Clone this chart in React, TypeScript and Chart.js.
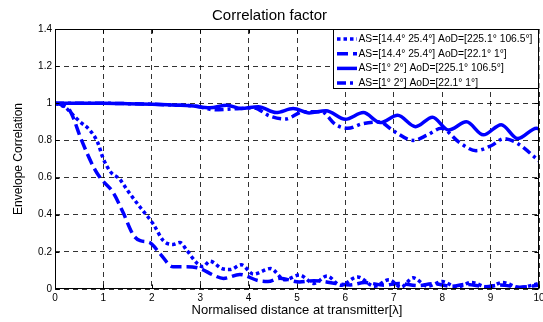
import React, { useEffect, useRef } from 'react';
import { Chart, registerables } from 'chart.js';

Chart.register(...registerables);

const chartTitle = 'Correlation factor';
const xAxisTitle = 'Normalised distance at transmitter[λ]';
const yAxisTitle = 'Envelope Correlation';

const xTickValues = [0, 1, 2, 3, 4, 5, 6, 7, 8, 9, 10];
const yTickValues = [0, 0.2, 0.4, 0.6, 0.8, 1, 1.2, 1.4];

const seriesLabels = [
  'AS=[14.4° 25.4°] AoD=[225.1° 106.5°]',
  'AS=[14.4° 25.4°] AoD=[22.1° 1°]',
  'AS=[1° 2°] AoD=[225.1° 106.5°]',
  'AS=[1° 2°] AoD=[22.1° 1°]',
];

// Series 1: dotted
const s1X = [0, 0.2, 0.4, 0.52, 0.72, 0.88, 1.0, 1.15, 1.34, 1.5, 1.76, 2.03, 2.24, 2.44, 2.58, 2.72, 2.93, 3.06, 3.2, 3.45, 3.62, 3.85, 4.1, 4.45, 4.75, 5.05, 5.35, 5.62, 5.9, 6.25, 6.6, 6.9, 7.15, 7.4, 7.7, 8.0, 8.3, 8.6, 8.95, 9.25, 9.6, 10];
const s1Y = [1, 0.98, 0.93, 0.9, 0.855, 0.79, 0.7, 0.63, 0.59, 0.53, 0.44, 0.35, 0.26, 0.24, 0.25, 0.21, 0.14, 0.12, 0.15, 0.11, 0.105, 0.13, 0.08, 0.11, 0.05, 0.075, 0.03, 0.07, 0.02, 0.065, 0.015, 0.05, 0.01, 0.06, 0.015, 0.04, 0.01, 0.035, 0.01, 0.035, 0.008, 0.03];

// Series 2: dashed
const s2X = [0, 0.15, 0.31, 0.55, 0.79, 0.93, 1.2, 1.41, 1.62, 1.76, 1.96, 2.17, 2.44, 2.72, 3.0, 3.27, 3.48, 3.82, 4.2, 4.4, 4.65, 5.05, 5.35, 5.8, 6.1, 6.4, 6.8, 7.1, 7.5, 7.8, 8.2, 8.5, 8.9, 9.2, 9.6, 10];
const s2Y = [1, 0.99, 0.96, 0.8, 0.66, 0.6, 0.52, 0.41, 0.29, 0.26, 0.25, 0.19, 0.12, 0.12, 0.11, 0.075, 0.057, 0.078, 0.045, 0.04, 0.058, 0.038, 0.045, 0.03, 0.022, 0.035, 0.02, 0.03, 0.018, 0.028, 0.015, 0.025, 0.012, 0.022, 0.01, 0.02];

// Series 3: solid
const s3X = [0, 0.5, 1, 1.5, 2, 2.5, 2.8, 3.2, 3.55, 3.85, 4.2, 4.57, 4.92, 5.25, 5.6, 6.0, 6.37, 6.72, 7.08, 7.45, 7.8, 8.13, 8.5, 8.85, 9.22, 9.56, 9.95, 10];
const s3Y = [1, 1, 1, 0.998, 0.995, 0.99, 0.987, 0.976, 0.99, 0.972, 0.982, 0.95, 0.972, 0.948, 0.96, 0.914, 0.95, 0.896, 0.935, 0.874, 0.925, 0.856, 0.9, 0.83, 0.885, 0.81, 0.866, 0.862];

// Series 4: dash-dot
const s4X = [0, 0.5, 1, 1.5, 2, 2.5, 2.9, 3.3, 3.7, 4.1, 4.45, 4.75, 5.15, 5.5, 5.8, 6.05, 6.35, 6.7, 7.0, 7.4, 7.7, 7.98, 8.35, 8.7, 9.0, 9.28, 9.55, 10];
const s4Y = [1, 1, 1, 0.998, 0.995, 0.99, 0.985, 0.965, 0.97, 0.975, 0.93, 0.915, 0.955, 0.955, 0.885, 0.865, 0.89, 0.9, 0.85, 0.8, 0.83, 0.865, 0.79, 0.745, 0.77, 0.81, 0.785, 0.69];

const FONT = "'Liberation Sans', Arial, sans-serif";
const BLUE = '#0000ff';

function toPoints(xs: number[], ys: number[]) {
  return xs.map((x, i) => ({ x, y: ys[i] }));
}

const framePlugin = {
  id: 'matlabFrame',
  afterDatasetsDraw(chart: any) {
    const { ctx, chartArea } = chart;
    const xs = chart.scales.x;
    const ys = chart.scales.y;
    ctx.save();
    ctx.strokeStyle = '#000';
    ctx.lineWidth = 1;
    ctx.setLineDash([]);
    const L = Math.round(chartArea.left) + 0.5;
    const R = Math.round(chartArea.right) - 0.5;
    const T = Math.round(chartArea.top) + 0.5;
    const B = Math.round(chartArea.bottom) - 0.5;
    ctx.strokeRect(L, T, R - L, B - T);
    const tl = 4;
    ctx.beginPath();
    xs.ticks.forEach((t: any) => {
      const px = Math.round(xs.getPixelForValue(t.value)) + 0.5;
      ctx.moveTo(px, B);
      ctx.lineTo(px, B - tl);
      ctx.moveTo(px, T);
      ctx.lineTo(px, T + tl);
    });
    ys.ticks.forEach((t: any) => {
      const py = Math.round(ys.getPixelForValue(t.value)) + 0.5;
      ctx.moveTo(L, py);
      ctx.lineTo(L + tl, py);
      ctx.moveTo(R, py);
      ctx.lineTo(R - tl, py);
    });
    ctx.stroke();
    ctx.restore();
  },
  afterDraw(chart: any) {
    const { ctx, chartArea } = chart;
    const width = 206;
    const rowH = 14.7;
    const n = chart.data.datasets.length;
    const left = Math.round(chartArea.right - width) + 0.5;
    const top = Math.round(chartArea.top) + 0.5;
    const height = 59;
    ctx.save();
    ctx.fillStyle = '#fff';
    ctx.fillRect(left, top, width, height);
    ctx.strokeStyle = '#000';
    ctx.lineWidth = 1;
    ctx.setLineDash([]);
    ctx.strokeRect(left, top, chartArea.right - 0.5 - left, height);
    ctx.font = `10.3px ${FONT}`;
    ctx.textBaseline = 'middle';
    ctx.textAlign = 'left';
    for (let i = 0; i < n; i++) {
      const ds: any = chart.data.datasets[i];
      const cy = top + 9.5 + i * rowH;
      ctx.save();
      ctx.strokeStyle = ds.borderColor;
      ctx.lineWidth = ds.borderWidth;
      ctx.setLineDash(ds.borderDash || []);
      ctx.beginPath();
      ctx.moveTo(left + 3.5, cy);
      ctx.lineTo(left + 23.5, cy);
      ctx.stroke();
      ctx.restore();
      ctx.fillStyle = '#000';
      ctx.fillText(ds.label, left + 25, cy);
    }
    ctx.restore();
  },
};

export default function App() {
  const canvasRef = useRef<HTMLCanvasElement | null>(null);

  useEffect(() => {
    document.body.style.margin = '0';
    const canvas = canvasRef.current;
    if (!canvas) return;
    const common = {
      borderColor: BLUE,
      backgroundColor: BLUE,
      borderWidth: 3.5,
      pointRadius: 0,
      fill: false,
      cubicInterpolationMode: 'monotone' as const,
      borderCapStyle: 'butt' as const,
    };
    const chart = new Chart(canvas, {
      type: 'line',
      data: {
        datasets: [
          { ...common, label: seriesLabels[0], data: toPoints(s1X, s1Y), borderDash: [3.5, 3] },
          { ...common, label: seriesLabels[1], data: toPoints(s2X, s2Y), borderDash: [11, 5] },
          { ...common, label: seriesLabels[2], data: toPoints(s3X, s3Y), borderDash: [] },
          { ...common, label: seriesLabels[3], data: toPoints(s4X, s4Y), borderDash: [9, 4, 3, 4] },
        ],
      },
      options: {
        responsive: false,
        animation: false,
        devicePixelRatio: 1,
        layout: { padding: { left: 0, right: 4, top: 0, bottom: 0 } },
        plugins: {
          legend: { display: false },
          tooltip: { enabled: false },
          title: {
            display: true,
            text: chartTitle,
            color: '#000',
            font: { family: FONT, size: 15, weight: 'normal' },
            padding: { top: 6.4, bottom: 4.6 },
          },
        },
        scales: {
          x: {
            type: 'linear',
            min: 0,
            max: 10,
            afterBuildTicks: (scale: any) => {
              scale.ticks = xTickValues.map((v) => ({ value: v }));
            },
            afterFit: (scale: any) => {
              scale.height = 33;
              scale.paddingLeft = 0;
              scale.paddingRight = 0;
            },
            ticks: {
              color: '#000',
              font: { family: FONT, size: 10 },
              padding: 3,
              maxRotation: 0,
              autoSkip: false,
            },
            grid: {
              color: 'rgba(0,0,0,0.8)',
              lineWidth: 1,
              drawTicks: false,
            },
            border: { display: false, dash: [5, 4] },
            title: {
              display: true,
              text: xAxisTitle,
              color: '#000',
              font: { family: FONT, size: 13 },
              padding: { top: 0, bottom: 3.7 },
            },
          },
          y: {
            type: 'linear',
            min: 0,
            max: 1.4,
            afterBuildTicks: (scale: any) => {
              scale.ticks = yTickValues.map((v) => ({ value: v }));
            },
            afterFit: (scale: any) => {
              scale.width = 55;
              scale.paddingTop = 0;
              scale.paddingBottom = 0;
            },
            ticks: {
              color: '#000',
              font: { family: FONT, size: 10 },
              padding: 3,
              autoSkip: false,
              callback: (v: any) => String(Math.round(Number(v) * 10) / 10),
            },
            grid: {
              color: 'rgba(0,0,0,0.8)',
              lineWidth: 1,
              drawTicks: false,
            },
            border: { display: false, dash: [5, 4] },
            title: {
              display: true,
              text: yAxisTitle,
              color: '#000',
              font: { family: FONT, size: 12 },
              padding: { top: 11, bottom: 0 },
            },
          },
        },
      },
      plugins: [framePlugin],
    });
    return () => chart.destroy();
  }, []);

  return (
    <div style={{ position: 'absolute', left: 0, top: 0, width: 543, height: 322 }}>
      <canvas ref={canvasRef} width={543} height={322} style={{ width: 543, height: 322 }} />
    </div>
  );
}
